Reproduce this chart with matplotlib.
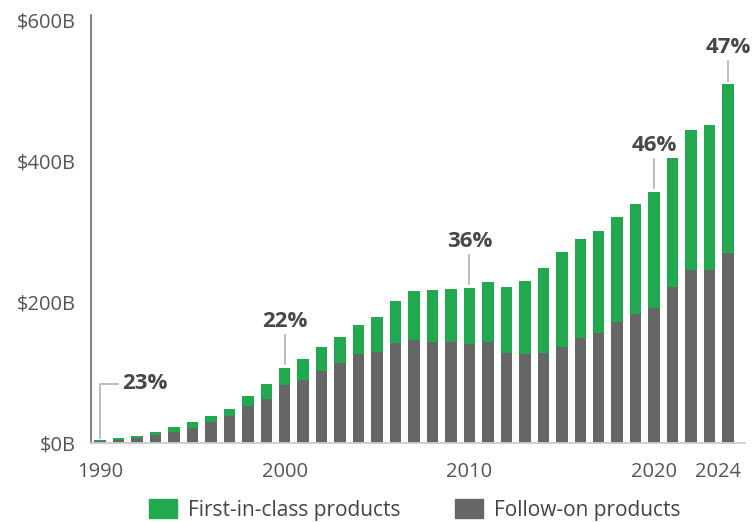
import numpy as np
import matplotlib
matplotlib.use("Agg")
from matplotlib import pyplot as plt
from matplotlib.patches import Patch
from matplotlib.transforms import ScaledTranslation

plt.rcParams['font.family'] = ['Open Sans', 'DejaVu Sans']

years = list(range(1990, 2025))

# sales, $B
follow_on = [3, 4.7, 6.6, 11.3, 16, 21.7, 30, 38.3, 52, 63,
             82, 90, 102, 114, 126, 129.5, 142, 146, 143.7, 143,
             141, 143, 127, 126, 127, 136.6, 149, 156.5, 172, 183,
             192, 221, 245, 245, 270]
total = [4.5, 7.5, 10.4, 16, 23, 30, 37.8, 48.7, 67, 83,
         106, 119.6, 135.7, 150, 168, 179, 201, 216, 217.5, 219,
         220, 228, 221.7, 229.8, 248.7, 271, 289, 300.7, 320.6, 338.6,
         356, 404.7, 443.5, 450.6, 509]
first_in_class = [t - f for t, f in zip(total, follow_on)]

share_years = [1990, 2000, 2010, 2020, 2024]
share_labels = ['23%', '22%', '36%', '46%', '47%']

ytick_vals = [0, 200, 400, 600]
ytick_labels = ['$0B', '$200B', '$400B', '$600B']
xtick_vals = [1990, 2000, 2010, 2020, 2024]

green = '#22a84f'
grey = '#666666'
txt = '#484848'

fig = plt.figure(figsize=(7.54, 5.22), dpi=100)
ax = fig.add_axes([91/754, 79/522, 654/754, 428/522])

ax.bar(years, follow_on, width=0.62, color=grey, label='Follow-on products')
ax.bar(years, first_in_class, width=0.62, bottom=follow_on, color=green,
       label='First-in-class products')

ax.set_xlim(1989.51, 2024.92)
ax.set_ylim(0, 607)

for s in ['top', 'right']:
    ax.spines[s].set_visible(False)
ax.spines['left'].set_color('#777777')
ax.spines['left'].set_linewidth(1.3)
ax.spines['bottom'].set_color('#cccccc')
ax.spines['bottom'].set_linewidth(1.3)

ax.set_yticks(ytick_vals)
ax.set_yticklabels(ytick_labels)
ax.set_xticks(xtick_vals)
ax.set_xticklabels([str(y) for y in xtick_vals])
ax.tick_params(axis='both', length=0, labelsize=14.5, colors='#555555')
ax.tick_params(axis='y', pad=11)
ax.tick_params(axis='x', pad=14)
# last year label sits a little left of its bar
last = ax.get_xticklabels()[-1]
last.set_transform(last.get_transform() + ScaledTranslation(-10/100, 0, fig.dpi_scale_trans))

# share of first-in-class labels with leader lines
lead = '#b0b0b0'
for yr, lab in zip(share_years, share_labels):
    top = total[years.index(yr)]
    if yr == 1990:
        ax.plot([yr, yr, yr + 0.95], [top + 3, 84, 84], color=lead, lw=1.2)
        ax.text(yr + 1.2, 84, lab, ha='left', va='center', fontsize=16,
                fontweight='bold', color=txt)
    else:
        gap = 5 if yr == 2024 else 6
        ax.plot([yr, yr], [top + gap, top + 47 if yr != 2024 else top + 33],
                color=lead, lw=1.2)
        ax.text(yr, (top + 66) if yr != 2024 else (top + 52), lab,
                ha='center', va='center', fontsize=16, fontweight='bold', color=txt)

handles = [Patch(color=green, label='First-in-class products'),
           Patch(color=grey, label='Follow-on products')]
fig.legend(handles=handles, loc='center left', bbox_to_anchor=(149/754, 12/522),
           ncol=2, frameon=False, fontsize=15, handlelength=1.35, handleheight=1.0,
           borderpad=0, borderaxespad=0, columnspacing=2.6, handletextpad=0.53,
           labelcolor='#444444')

plt.savefig('out.png', dpi=100)
